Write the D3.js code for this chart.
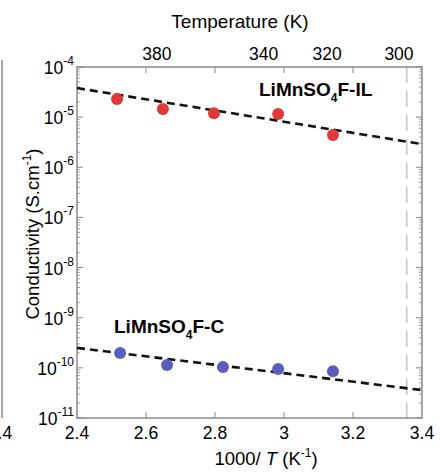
<!DOCTYPE html>
<html>
<head>
<meta charset="utf-8">
<script src="https://d3js.org/d3.v7.min.js"></script>
<style>
  body { margin: 0; background: #fff; }
  svg { display: block; font-family: "Liberation Sans", Arial, sans-serif; }
</style>
</head>
<body>
<div id="chart"></div>
<script>
// conductivity vs 1000/T, two samples + Arrhenius fits

// data
var xTicks = [2.4, 2.6, 2.8, 3, 3.2, 3.4];
var tempTicks = [380, 340, 320, 300];
var yExps = [-4, -5, -6, -7, -8, -9, -10, -11];

var ilX = [2.516, 2.649, 2.797, 2.983, 3.142];
var ilSigma = [2.3e-5, 1.45e-5, 1.2e-5, 1.15e-5, 4.4e-6];
var cX = [2.525, 2.661, 2.823, 2.983, 3.142];
var cSigma = [1.98e-10, 1.14e-10, 1.04e-10, 9.5e-11, 8.6e-11];

// fit lines, value at 1000/T = 2.4 and 3.4
var fitX = [2.4, 3.4];
var ilFit = [3.8e-5, 2.9e-6];
var cFit = [2.5e-10, 3.6e-11];

var roomT = 298;

var svgWidth = 441;
var svgHeight = 476;
var margin = { top: 67, right: 19, bottom: 58, left: 77 };
var width = svgWidth - margin.left - margin.right;
var height = svgHeight - margin.top - margin.bottom;

var svg = d3.select("#chart")
    .append("svg")
    .attr("width", svgWidth)
    .attr("height", svgHeight);

var chartGroup = svg.append("g")
    .attr("transform", `translate(${margin.left},${margin.top})`);

var xScale = d3.scaleLinear().domain([2.4, 3.4]).range([0, width]);
var yScale = d3.scaleLog().domain([1e-11, 1e-4]).range([height, 0]);

var frameColor = "#8a8a8a";

// minor tick values on the log axis
var minorTicks = [];
yExps.slice(1).forEach(function(e) {
    for (var m = 2; m <= 9; m++) minorTicks.push(m * Math.pow(10, e));
});
var majorTicks = yExps.map(e => Math.pow(10, e));

// room temperature marker
chartGroup.append("line")
    .attr("x1", xScale(1000 / roomT))
    .attr("x2", xScale(1000 / roomT))
    .attr("y1", 0)
    .attr("y2", height)
    .attr("stroke", "#c4c4c4")
    .attr("stroke-width", 1.5)
    .attr("stroke-dasharray", "16,8");

// frame
chartGroup.append("rect")
    .attr("width", width)
    .attr("height", height)
    .attr("fill", "none")
    .attr("stroke", frameColor)
    .attr("stroke-width", 1.5);

// x ticks, bottom and top, pointing in
var xInner = xTicks.slice(1, -1);
chartGroup.selectAll(".xtb").data(xInner).enter().append("line")
    .attr("x1", d => xScale(d)).attr("x2", d => xScale(d))
    .attr("y1", height).attr("y2", height - 6)
    .attr("stroke", frameColor);
chartGroup.selectAll(".xtt").data(xInner).enter().append("line")
    .attr("x1", d => xScale(d)).attr("x2", d => xScale(d))
    .attr("y1", 0).attr("y2", 6)
    .attr("stroke", frameColor);

// y ticks both sides
[0, width].forEach(function(x0) {
    var dir = x0 === 0 ? 1 : -1;
    chartGroup.append("g").selectAll("line").data(majorTicks).enter().append("line")
        .attr("x1", x0).attr("x2", x0 + dir * 6)
        .attr("y1", d => yScale(d)).attr("y2", d => yScale(d))
        .attr("stroke", frameColor);
    chartGroup.append("g").selectAll("line").data(minorTicks).enter().append("line")
        .attr("x1", x0).attr("x2", x0 + dir * 3)
        .attr("y1", d => yScale(d)).attr("y2", d => yScale(d))
        .attr("stroke", frameColor).attr("stroke-width", 0.8);
});

// x tick labels
chartGroup.selectAll(".xl").data(xTicks).enter().append("text")
    .attr("x", d => xScale(d))
    .attr("y", height + 21)
    .attr("text-anchor", "middle")
    .attr("font-size", 17.5)
    .text(d => d3.format("")(d));

// top temperature labels
chartGroup.selectAll(".tl").data(tempTicks).enter().append("text")
    .attr("x", d => xScale(1000 / d))
    .attr("y", -7)
    .attr("text-anchor", "middle")
    .attr("font-size", 17.5)
    .text(d => d);

// y tick labels with superscript
var yl = chartGroup.selectAll(".yl").data(yExps).enter().append("text")
    .attr("x", -3)
    .attr("y", d => yScale(Math.pow(10, d)) + 7)
    .attr("text-anchor", "end")
    .attr("font-size", 17.5);
yl.append("tspan").text("10");
yl.append("tspan").attr("font-size", 12).attr("dy", -9).text(d => d);

// fit lines
var line = d3.line().x(d => xScale(d[0])).y(d => yScale(d[1]));
[ilFit, cFit].forEach(function(f) {
    chartGroup.append("path")
        .datum(fitX.map((x, i) => [x, f[i]]))
        .attr("d", line)
        .attr("fill", "none")
        .attr("stroke", "#111")
        .attr("stroke-width", 2.6)
        .attr("stroke-dasharray", "8,5");
});

// points
chartGroup.append("g").selectAll("circle")
    .data(ilX.map((x, i) => [x, ilSigma[i]]))
    .enter().append("circle")
    .attr("cx", d => xScale(d[0]))
    .attr("cy", d => yScale(d[1]))
    .attr("r", 6)
    .attr("fill", "#e1393a");

chartGroup.append("g").selectAll("circle")
    .data(cX.map((x, i) => [x, cSigma[i]]))
    .enter().append("circle")
    .attr("cx", d => xScale(d[0]))
    .attr("cy", d => yScale(d[1]))
    .attr("r", 6)
    .attr("fill", "#5a5dbd");

// series labels
function seriesLabel(x, y, tail) {
    var t = chartGroup.append("text")
        .attr("x", x).attr("y", y)
        .attr("font-size", 19)
        .attr("font-weight", "bold");
    t.append("tspan").text("LiMnSO");
    t.append("tspan").attr("font-size", 12).attr("dy", 6).text("4");
    t.append("tspan").attr("dy", -6).text(tail);
}
seriesLabel(182, 29, "F-IL");
seriesLabel(37, 266, "F-C");

// axis titles
svg.append("text")
    .attr("x", 240)
    .attr("y", 28)
    .attr("text-anchor", "middle")
    .attr("font-size", 19)
    .text("Temperature (K)");

var xt = svg.append("text")
    .attr("x", 266)
    .attr("y", 465)
    .attr("text-anchor", "middle")
    .attr("font-size", 18.5);
xt.append("tspan").text("1000/ ");
xt.append("tspan").attr("font-style", "italic").text("T");
xt.append("tspan").text(" (K");
xt.append("tspan").attr("font-size", 12).attr("dy", -8).text("-1");
xt.append("tspan").attr("dy", 8).text(")");

var yt = svg.append("text")
    .attr("transform", "translate(39,234) rotate(-90)")
    .attr("text-anchor", "middle")
    .attr("font-size", 18.5);
yt.append("tspan").text("Conductivity (S.cm");
yt.append("tspan").attr("font-size", 12).attr("dy", -8).text("-1");
yt.append("tspan").attr("dy", 8).text(")");

// edge of the neighbouring panel on the left (its label is cut by the window, as in the source)
svg.append("line")
    .attr("x1", 2).attr("x2", 2)
    .attr("y1", 60).attr("y2", margin.top + height)
    .attr("stroke", frameColor)
    .attr("stroke-width", 1.5);
svg.append("text")
    .attr("x", 0)
    .attr("y", margin.top + height + 21)
    .attr("text-anchor", "middle")
    .attr("font-size", 17.5)
    .text("3.4");
</script>
</body>
</html>
